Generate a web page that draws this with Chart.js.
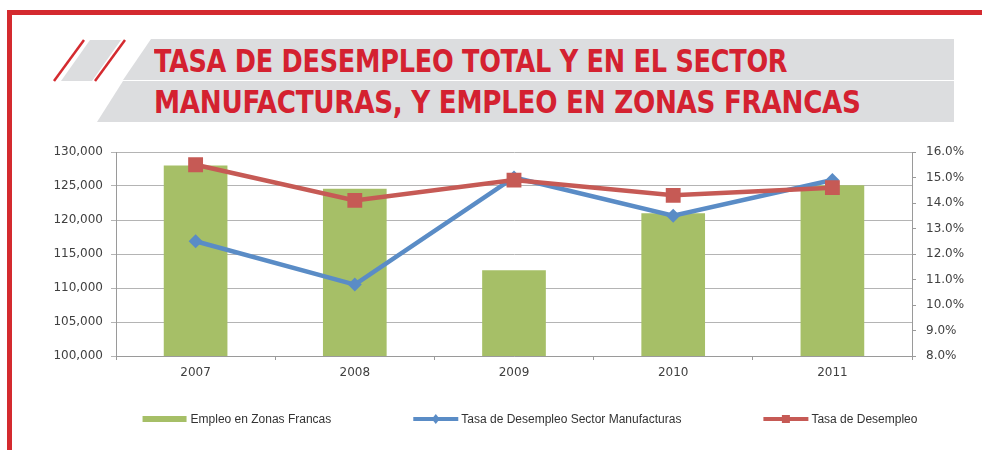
<!DOCTYPE html>
<html>
<head>
<meta charset="utf-8">
<script src="https://cdn.jsdelivr.net/npm/chart.js@4.4.1/dist/chart.umd.min.js"></script>
<style>
  html, body { margin: 0; padding: 0; background: #fff; }
  #page { position: relative; width: 982px; height: 450px; overflow: hidden; }
  #deco { position: absolute; left: 0; top: 0; }
  .title {
    position: absolute; left: 154px; white-space: nowrap;
    font-family: "Liberation Sans Narrow", "DejaVu Sans Condensed", "Liberation Sans", sans-serif;
    font-weight: bold; font-size: 32px; line-height: 32px; color: #d42130;
    transform-origin: 0 0; letter-spacing: -0.3px;
  }
  #chartBox { position: absolute; left: 0; top: 130px; }
</style>
</head>
<body>
<div id="page">
  <svg id="deco" width="982" height="450">
    <rect x="7" y="10" width="975" height="5" fill="#d42a2f"/>
    <rect x="7" y="10" width="5" height="440" fill="#d42a2f"/>
    <polygon points="151,39 954,39 954,80 123,80" fill="#dcdddf"/>
    <polygon points="123,81 954,81 954,122 97,122" fill="#dcdddf"/>
    <polygon points="90,40 121,40 92,81 61,81" fill="#dcdddf"/>
    <line x1="84" y1="40" x2="54" y2="81" stroke="#d42a2f" stroke-width="2.5"/>
    <line x1="125" y1="40" x2="95" y2="81" stroke="#d42a2f" stroke-width="2.5"/>
  </svg>
  <div class="title" id="t1" style="top:45px">TASA DE DESEMPLEO TOTAL Y EN EL SECTOR</div>
  <div class="title" id="t2" style="top:86px">MANUFACTURAS, Y EMPLEO EN ZONAS FRANCAS</div>
  <div id="chartBox"><canvas id="chart" width="982" height="320"></canvas></div>
</div>
<script>
// ---- data ----
const years = ["2007", "2008", "2009", "2010", "2011"];
const empleoZonasFrancas = [128000, 124600, 112600, 121000, 125100];
const desempleoManufacturas = [12.5, 10.8, 15.0, 13.5, 14.9];
const desempleoTotal = [15.5, 14.1, 14.9, 14.3, 14.6];

const seriesNames = ["Empleo en Zonas Francas", "Tasa de Desempleo Sector Manufacturas", "Tasa de Desempleo"];

const GREEN = "#a6bf67";
const BLUE = "#5a8cc6";
const RED = "#c65a55";

// fit the title lines to the widths seen in the reference
function fitTitle(id, w) {
    const el = document.getElementById(id);
    el.style.transform = "scaleX(" + (w / el.offsetWidth) + ")";
}
fitTitle("t1", 633);
fitTitle("t2", 707);

// legend drawn along the bottom, Excel style
const bottomLegend = {
    id: "bottomLegend",
    afterDraw(chart) {
        const ctx = chart.ctx;
        const font = "12px 'Liberation Sans', Arial, sans-serif";
        ctx.save();
        ctx.font = font;
        const swatch = 45, gapText = 3, gapItem = 82;
        const widths = seriesNames.map(n => swatch + gapText + ctx.measureText(n).width);
        const total = widths.reduce((a, b) => a + b, 0) + gapItem * (widths.length - 1);
        let x = 530 - total / 2;
        const y = 289;
        chart.data.datasets.forEach((ds, i) => {
            if (ds.type === "bar") {
                ctx.fillStyle = ds.backgroundColor;
                ctx.fillRect(x, y - 3, swatch - 1, 6);
            } else {
                ctx.strokeStyle = ds.borderColor;
                ctx.lineWidth = 4;
                ctx.beginPath();
                ctx.moveTo(x, y);
                ctx.lineTo(x + swatch, y);
                ctx.stroke();
                ctx.fillStyle = ds.borderColor;
                const cx = x + swatch / 2;
                if (ds.pointStyle === "rect") {
                    ctx.fillRect(cx - 4, y - 4, 8, 8);
                } else {
                    ctx.beginPath();
                    ctx.moveTo(cx, y - 5); ctx.lineTo(cx + 4, y);
                    ctx.lineTo(cx, y + 5); ctx.lineTo(cx - 4, y);
                    ctx.closePath(); ctx.fill();
                }
            }
            ctx.fillStyle = "#333";
            ctx.textBaseline = "middle";
            ctx.fillText(seriesNames[i], x + swatch + gapText, y + 1);
            x += widths[i] + gapItem;
        });
        ctx.restore();
    }
};

const tickFont = { family: "'DejaVu Sans', sans-serif", size: 12 };

new Chart(document.getElementById("chart"), {
    data: {
        labels: years,
        datasets: [
            {
                type: "bar",
                label: seriesNames[0],
                data: empleoZonasFrancas,
                backgroundColor: GREEN,
                yAxisID: "y",
                categoryPercentage: 1,
                barPercentage: 0.4,
                order: 3,
            },
            {
                type: "line",
                label: seriesNames[1],
                data: desempleoManufacturas,
                borderColor: BLUE,
                backgroundColor: BLUE,
                borderWidth: 4.5,
                pointStyle: "rectRot",
                pointRadius: 7,
                pointBorderWidth: 0,
                tension: 0,
                yAxisID: "y1",
                order: 2,
            },
            {
                type: "line",
                label: seriesNames[2],
                data: desempleoTotal,
                borderColor: RED,
                backgroundColor: RED,
                borderWidth: 4.5,
                pointStyle: "rect",
                pointRadius: 10.5,
                pointBorderWidth: 0,
                tension: 0,
                yAxisID: "y1",
                order: 1,
            },
        ],
    },
    options: {
        responsive: false,
        animation: false,
        layout: { padding: { top: 22, bottom: 64, left: 0, right: 0 } },
        plugins: {
            legend: { display: false },
            tooltip: { enabled: false },
        },
        scales: {
            x: {
                offset: true,
                grid: { drawOnChartArea: false, offset: true, tickLength: 4, color: "#9a9a9a" },
                border: { color: "#9a9a9a" },
                ticks: { font: tickFont, color: "#404040", padding: 6 },
                afterFit: s => { s.height = 30; },
            },
            y: {
                position: "left",
                min: 100000,
                max: 130000,
                grid: { color: "#b4b4b4", tickLength: 5 },
                border: { color: "#9a9a9a" },
                ticks: {
                    stepSize: 5000,
                    font: tickFont,
                    color: "#404040",
                    padding: 8,
                    callback: v => v.toLocaleString("en-US"),
                },
                afterFit: s => { s.width = 116; },
            },
            y1: {
                position: "right",
                min: 8,
                max: 16,
                grid: { drawOnChartArea: false, tickLength: 4, color: "#9a9a9a" },
                border: { color: "#9a9a9a" },
                ticks: {
                    stepSize: 1,
                    font: tickFont,
                    color: "#404040",
                    padding: 10,
                    callback: v => v.toFixed(1) + "%",
                },
                afterFit: s => { s.width = 70; },
            },
        },
    },
    plugins: [bottomLegend],
});
</script>
</body>
</html>
